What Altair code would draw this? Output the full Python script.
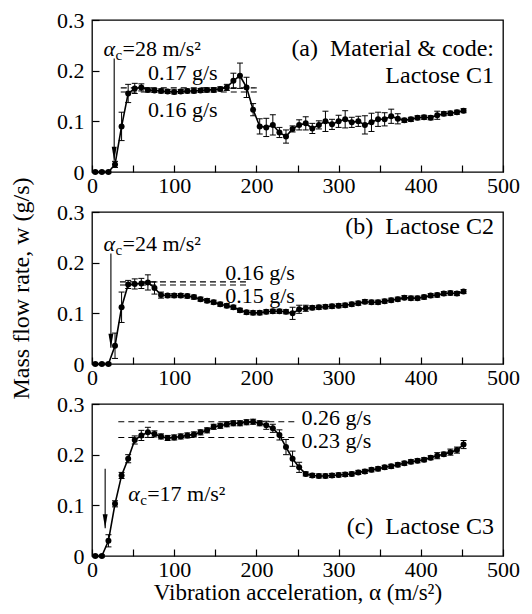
import altair as alt
import pandas as pd

# ---------------- data ----------------
accel = [4, 12, 20, 28, 36, 44, 52, 60, 68, 76, 84, 92, 100, 108, 116, 124, 132, 140,
         148, 156, 164, 172, 180, 188, 196, 204, 212, 220, 228, 236, 244, 252, 260, 268,
         276, 284, 292, 300, 308, 316, 324, 332, 340, 348, 356, 364, 372, 380, 388, 396,
         404, 412, 420, 428, 436, 444, 452]

flow_a = [0, 0, 0, 0.015, 0.09, 0.155, 0.165, 0.167, 0.162, 0.161, 0.16, 0.159, 0.158,
          0.159, 0.16, 0.16, 0.161, 0.162, 0.162, 0.164, 0.167, 0.18, 0.19, 0.167, 0.123,
          0.09, 0.088, 0.093, 0.078, 0.07, 0.085, 0.093, 0.096, 0.086, 0.093, 0.1, 0.094,
          0.1, 0.104, 0.098, 0.1, 0.093, 0.098, 0.104, 0.104, 0.11, 0.105, 0.102, 0.104,
          0.107, 0.108, 0.107, 0.112, 0.115, 0.116, 0.118, 0.121]
err_a = [0.002, 0.002, 0.002, 0.006, 0.028, 0.018, 0.01, 0.007, 0.004, 0.004, 0.004, 0.004,
         0.004, 0.004, 0.004, 0.004, 0.004, 0.004, 0.004, 0.004, 0.006, 0.015, 0.025, 0.02,
         0.012, 0.015, 0.018, 0.02, 0.01, 0.013, 0.006, 0.01, 0.013, 0.01, 0.008, 0.02, 0.01,
         0.012, 0.017, 0.01, 0.01, 0.018, 0.018, 0.014, 0.013, 0.014, 0.01, 0.004, 0.004,
         0.004, 0.004, 0.004, 0.008, 0.004, 0.004, 0.004, 0.004]

flow_b = [0, 0, 0, 0.036, 0.112, 0.157, 0.158, 0.159, 0.161, 0.15, 0.136, 0.135, 0.135,
          0.135, 0.134, 0.132, 0.128, 0.125, 0.122, 0.118, 0.115, 0.112, 0.106, 0.102, 0.101,
          0.101, 0.103, 0.104, 0.104, 0.103, 0.1, 0.108, 0.11, 0.111, 0.112, 0.113, 0.114,
          0.115, 0.116, 0.118, 0.12, 0.123, 0.122, 0.122, 0.124, 0.126, 0.128, 0.131, 0.13,
          0.13, 0.132, 0.135, 0.136, 0.139, 0.14, 0.139, 0.143]
err_b = [0.002, 0.002, 0.002, 0.025, 0.03, 0.008, 0.01, 0.01, 0.015, 0.012, 0.006, 0.004,
         0.004, 0.004, 0.004, 0.004, 0.004, 0.004, 0.004, 0.004, 0.004, 0.004, 0.004, 0.004,
         0.004, 0.004, 0.004, 0.004, 0.004, 0.004, 0.012, 0.008, 0.006, 0.004, 0.004, 0.004,
         0.004, 0.004, 0.004, 0.004, 0.004, 0.004, 0.004, 0.004, 0.004, 0.004, 0.004, 0.004,
         0.004, 0.004, 0.004, 0.004, 0.004, 0.004, 0.004, 0.004, 0.004]

flow_c = [0, 0, 0.03, 0.103, 0.159, 0.192, 0.229, 0.238, 0.244, 0.241, 0.236, 0.233, 0.234,
          0.236, 0.238, 0.24, 0.244, 0.248, 0.255, 0.257, 0.26, 0.262, 0.262, 0.264, 0.265,
          0.262, 0.258, 0.252, 0.239, 0.215, 0.192, 0.175, 0.162, 0.159, 0.158, 0.158, 0.159,
          0.16, 0.161, 0.162, 0.165, 0.167, 0.17, 0.172, 0.175, 0.177, 0.18, 0.183, 0.186,
          0.188, 0.19, 0.194, 0.198, 0.201, 0.205, 0.209, 0.22]
err_c = [0.002, 0.002, 0.012, 0.006, 0.006, 0.008, 0.008, 0.01, 0.01, 0.006, 0.005, 0.005,
         0.005, 0.005, 0.005, 0.005, 0.005, 0.005, 0.005, 0.005, 0.005, 0.005, 0.005, 0.005,
         0.005, 0.005, 0.008, 0.008, 0.01, 0.015, 0.015, 0.01, 0.004, 0.004, 0.004, 0.004,
         0.004, 0.004, 0.004, 0.004, 0.004, 0.004, 0.004, 0.004, 0.004, 0.004, 0.004, 0.004,
         0.004, 0.004, 0.004, 0.004, 0.006, 0.004, 0.006, 0.006, 0.008]

x_ticks = [0, 50, 100, 150, 200, 250, 300, 350, 400, 450, 500]
y_ticks = [0, 0.05, 0.1, 0.15, 0.2, 0.25, 0.3]

# ---------------- style ----------------
FONT = "Liberation Serif"
W, H = 411, 152
TICK = 7
X_DOMAIN = [0, 500]
Y_DOMAIN = [0, 0.3]

x_label_expr = "datum.value % 100 == 0 ? datum.label : ''"
y_label_expr = ("round(datum.value * 100) % 10 == 0 ? "
                "(datum.value == 0 ? '0' : format(datum.value, '.1f')) : ''")

AX_STYLE = dict(tickSize=TICK, offset=-TICK, domain=False, grid=False,
                labelFlush=False, labelOverlap=False,
                labelFont=FONT, labelFontSize=22, labelColor="black",
                titleFont=FONT, titleFontWeight="normal", titleColor="black",
                tickColor="black", tickWidth=1.2)


def x_enc(field, title=None):
    return alt.X(field, type="quantitative",
                 scale=alt.Scale(domain=X_DOMAIN, nice=False, zero=False),
                 axis=alt.Axis(values=x_ticks, labelExpr=x_label_expr, labelPadding=3,
                               title=title if title else None, titleFontSize=23,
                               titlePadding=1, **AX_STYLE))


def y_enc(field, title=None):
    return alt.Y(field, type="quantitative",
                 scale=alt.Scale(domain=Y_DOMAIN, nice=False, zero=False),
                 axis=alt.Axis(values=y_ticks, labelExpr=y_label_expr, labelPadding=8,
                               title=title if title else None, titleFontSize=24,
                               titlePadding=23, **AX_STYLE))


def panel(flow, err, dashes, labels, alpha_lbl, arrow, x_title=None, y_title=None):
    df = pd.DataFrame({"x": accel, "y": flow,
                       "lo": [f - e for f, e in zip(flow, err)],
                       "hi": [f + e for f, e in zip(flow, err)]})
    base = alt.Chart(df)
    rules = base.mark_rule(color="black", strokeWidth=1).encode(
        x=x_enc("x", x_title), y=y_enc("lo", y_title), y2="hi")
    cap_lo = base.mark_tick(orient="horizontal", size=6, thickness=1, color="black",
                            opacity=1).encode(x="x:Q", y="lo:Q")
    cap_hi = base.mark_tick(orient="horizontal", size=6, thickness=1, color="black",
                            opacity=1).encode(x="x:Q", y="hi:Q")
    line = base.mark_line(color="black", strokeWidth=1.6).encode(x="x:Q", y="y:Q")
    pts = base.mark_circle(color="black", size=36, opacity=1).encode(x="x:Q", y="y:Q")

    ddf = pd.DataFrame(dashes, columns=["x1", "x2", "y"])
    dash = alt.Chart(ddf).mark_rule(color="black", strokeWidth=1.1,
                                    strokeDash=[6, 4]).encode(
        x="x1:Q", x2="x2", y="y:Q")

    layers = [dash, rules, cap_lo, cap_hi, line, pts]

    for (tx, ty, txt, align, fs) in labels:
        tdf = pd.DataFrame({"x": [tx], "y": [ty], "t": [txt]})
        layers.append(alt.Chart(tdf).mark_text(
            font=FONT, fontSize=fs, align=align, baseline="middle", color="black"
        ).encode(x="x:Q", y="y:Q", text="t:N"))

    ax, ay, rest = alpha_lbl
    adf = pd.DataFrame({"x": [ax], "y": [ay], "a": ["α"], "c": ["c"], "r": [rest]})
    layers.append(alt.Chart(adf).mark_text(
        font=FONT, fontSize=22, fontStyle="italic", align="left", baseline="middle",
        color="black").encode(x="x:Q", y="y:Q", text="a:N"))
    layers.append(alt.Chart(adf).mark_text(
        font=FONT, fontSize=15, align="left", baseline="middle", dx=12, dy=6,
        color="black").encode(x="x:Q", y="y:Q", text="c:N"))
    layers.append(alt.Chart(adf).mark_text(
        font=FONT, fontSize=22, align="left", baseline="middle", dx=19,
        color="black").encode(x="x:Q", y="y:Q", text="r:N"))

    axx, ytop, ytip = arrow
    arr = pd.DataFrame({"x": [axx], "top": [ytop], "tip": [ytip]})
    layers.append(alt.Chart(arr).mark_rule(color="black", strokeWidth=1.1).encode(
        x="x:Q", y="top:Q", y2="tip"))
    layers.append(alt.Chart(arr).mark_point(
        shape="M0,0L-0.7,-4L0.7,-4Z", size=49, filled=True, color="black",
        opacity=1).encode(x="x:Q", y="tip:Q"))

    return alt.layer(*layers).properties(width=W, height=H)


pa = panel(flow_a, err_a,
           dashes=[(35, 205, 0.166), (35, 205, 0.158)],
           labels=[(68, 0.196, "0.17 g/s", "left", 22), (68, 0.122, "0.16 g/s", "left", 22),
                   (489, 0.243, "(a)\u00a0\u00a0Material & code:", "right", 24),
                   (489, 0.19, "Lactose C1", "right", 24)],
           alpha_lbl=(14, 0.243, "=28 m/s\u00b2"),
           arrow=(27, 0.224, 0.022))

pb = panel(flow_b, err_b,
           dashes=[(34, 189, 0.162), (34, 189, 0.156)],
           labels=[(162, 0.18, "0.16 g/s", "left", 22), (162, 0.134, "0.15 g/s", "left", 22),
                   (489, 0.27, "(b)\u00a0\u00a0Lactose C2", "right", 24)],
           alpha_lbl=(14, 0.237, "=24 m/s\u00b2"),
           arrow=(23, 0.218, 0.032),
           y_title="Mass flow rate, w (g/s)")

pc = panel(flow_c, err_c,
           dashes=[(32, 247, 0.265), (32, 247, 0.234)],
           labels=[(255, 0.272, "0.26 g/s", "left", 22), (255, 0.227, "0.23 g/s", "left", 22),
                   (489, 0.058, "(c)\u00a0\u00a0Lactose C3", "right", 24)],
           alpha_lbl=(44, 0.122, "=17 m/s\u00b2"),
           arrow=(16, 0.172, 0.055),
           x_title="Vibration acceleration, \u03b1 (m/s\u00b2)")

chart = alt.vconcat(pa, pb, pc, spacing=40, bounds="flush").properties(
    padding=0
).configure(
    background="white"
).configure_view(
    stroke="black", strokeWidth=1.3
)

chart.save("out.html", embed_options={"renderer": "svg", "actions": False})
